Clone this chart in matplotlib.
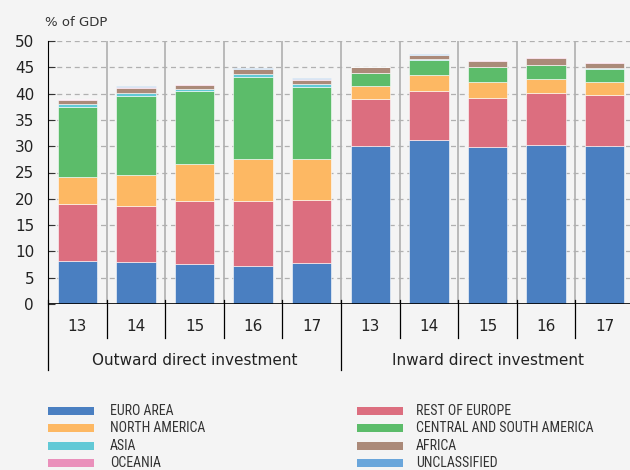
import matplotlib
matplotlib.use("Agg")
import matplotlib.pyplot as plt
from matplotlib.patches import Rectangle
from matplotlib import font_manager
import numpy as np

# values (% of GDP), years 13-17
years = ["13", "14", "15", "16", "17"]
groups = ["Outward direct investment", "Inward direct investment"]

euro_out = [8.1, 7.9, 7.6, 7.2, 7.8]
rest_out = [11.0, 10.7, 12.0, 12.3, 11.9]
na_out = [5.1, 6.0, 7.0, 8.1, 7.8]
csa_out = [13.3, 15.0, 13.9, 15.6, 13.8]
asia_out = [0.5, 0.5, 0.4, 0.5, 0.5]
africa_out = [0.7, 1.0, 0.8, 0.9, 0.8]
oceania_out = [0.2, 0.2, 0.1, 0.1, 0.2]
unclass_out = [0.1, 0.1, 0.1, 0.1, 0.1]

euro_in = [30.1, 31.1, 29.8, 30.3, 30.1]
rest_in = [8.8, 9.3, 9.4, 9.8, 9.7]
na_in = [2.6, 3.1, 3.0, 2.6, 2.5]
csa_in = [2.4, 2.8, 2.8, 2.7, 2.4]
asia_in = [0.1, 0.2, 0.1, 0.1, 0.2]
africa_in = [1.0, 0.8, 1.1, 1.3, 1.0]
oceania_in = [0.0, 0.1, 0.1, 0.1, 0.1]
unclass_in = [0.1, 0.1, 0.1, 0.1, 0.1]

labels = ["EURO AREA", "REST OF EUROPE", "NORTH AMERICA", "CENTRAL AND SOUTH AMERICA",
          "ASIA", "AFRICA", "OCEANIA", "UNCLASSIFIED"]
colors = ["#4a7fc1", "#dc6e7f", "#fdb863", "#5cbc6a",
          "#62c9d6", "#ab8a79", "#ea90bb", "#6aa6db"]

series = [euro_out + euro_in, rest_out + rest_in, na_out + na_in, csa_out + csa_in,
          asia_out + asia_in, africa_out + africa_in, oceania_out + oceania_in,
          unclass_out + unclass_in]

bg = "#f4f4f4"
fig = plt.figure(figsize=(6.3, 4.7), dpi=100, facecolor=bg)
ax = fig.add_axes([48 / 630, 1 - 304 / 470, 586 / 630, 263 / 470])
ax.set_facecolor(bg)

x = np.arange(10)
bottom = np.zeros(10)
for vals, c in zip(series, colors):
    vals = np.array(vals)
    ax.bar(x, vals, 0.67, bottom=bottom, color=c, edgecolor="white",
           linewidth=0.4, zorder=3)
    bottom += vals

ax.set_xlim(-0.5, 9.5)
ax.set_ylim(0, 50)
ax.set_yticks(range(0, 51, 5))
ax.set_xticks([])
ax.yaxis.grid(True, color="#b0b0b0", linestyle=(0, (4, 3)), linewidth=0.9, zorder=0)
for s in ["top", "right", "bottom"]:
    ax.spines[s].set_visible(False)
ax.spines["left"].set_color("black")
ax.axhline(0, color="black", lw=1.2, zorder=4)
ax.tick_params(axis="y", direction="in", length=5, labelsize=11, pad=10, color="#333333")
for t in ax.get_yticklabels():
    t.set_color("#222222")

# gray separators inside the plot
for b in np.arange(0.5, 9.5, 1):
    ax.axvline(b, color="#b4b4b4", lw=1.3, zorder=1)

trans = ax.get_xaxis_transform()
for i, yr in enumerate(years * 2):
    ax.text(i, -0.084, yr, transform=trans, ha="center", va="center",
            fontsize=11, color="#222222")
for b in np.arange(0.5, 9.5, 1):
    if b == 4.5:
        continue
    ax.plot([b, b], [0.015, -0.129], transform=trans, color="black", lw=0.9, clip_on=False)
for b in [-0.5, 4.5]:
    ax.plot([b, b], [0.015, -0.251], transform=trans, color="black", lw=0.9, clip_on=False)
ax.text(2, -0.213, groups[0], transform=trans, ha="center", va="center",
        fontsize=11, color="#222222")
ax.text(7, -0.213, groups[1], transform=trans, ha="center", va="center",
        fontsize=11, color="#222222")

fig.text(45 / 630, 1 - 22 / 470, "% of GDP", fontsize=9.5, color="#333333",
         ha="left", va="center")

# legend, two columns; narrow font if one is around
names = {f.name for f in font_manager.fontManager.ttflist}
narrow = [n for n in ["Liberation Sans Narrow", "DejaVu Sans Condensed", "Roboto Condensed",
                      "Open Sans Condensed"] if n in names]
legfont = narrow + ["DejaVu Sans"]
rows = [411, 428, 446, 463]
cols = [(48, 110), (357, 416)]
for k, (lab, c) in enumerate(zip(labels, colors)):
    px, tx = cols[k % 2]
    py = rows[k // 2]
    fig.add_artist(Rectangle((px / 630, 1 - (py + 4) / 470), 46 / 630, 8 / 470,
                             transform=fig.transFigure, facecolor=c, edgecolor="none"))
    fig.text(tx / 630, 1 - py / 470, lab, fontsize=10, color="#333333",
             ha="left", va="center", family=legfont, stretch="condensed")

fig.savefig("out.png", dpi=100, facecolor=bg)
